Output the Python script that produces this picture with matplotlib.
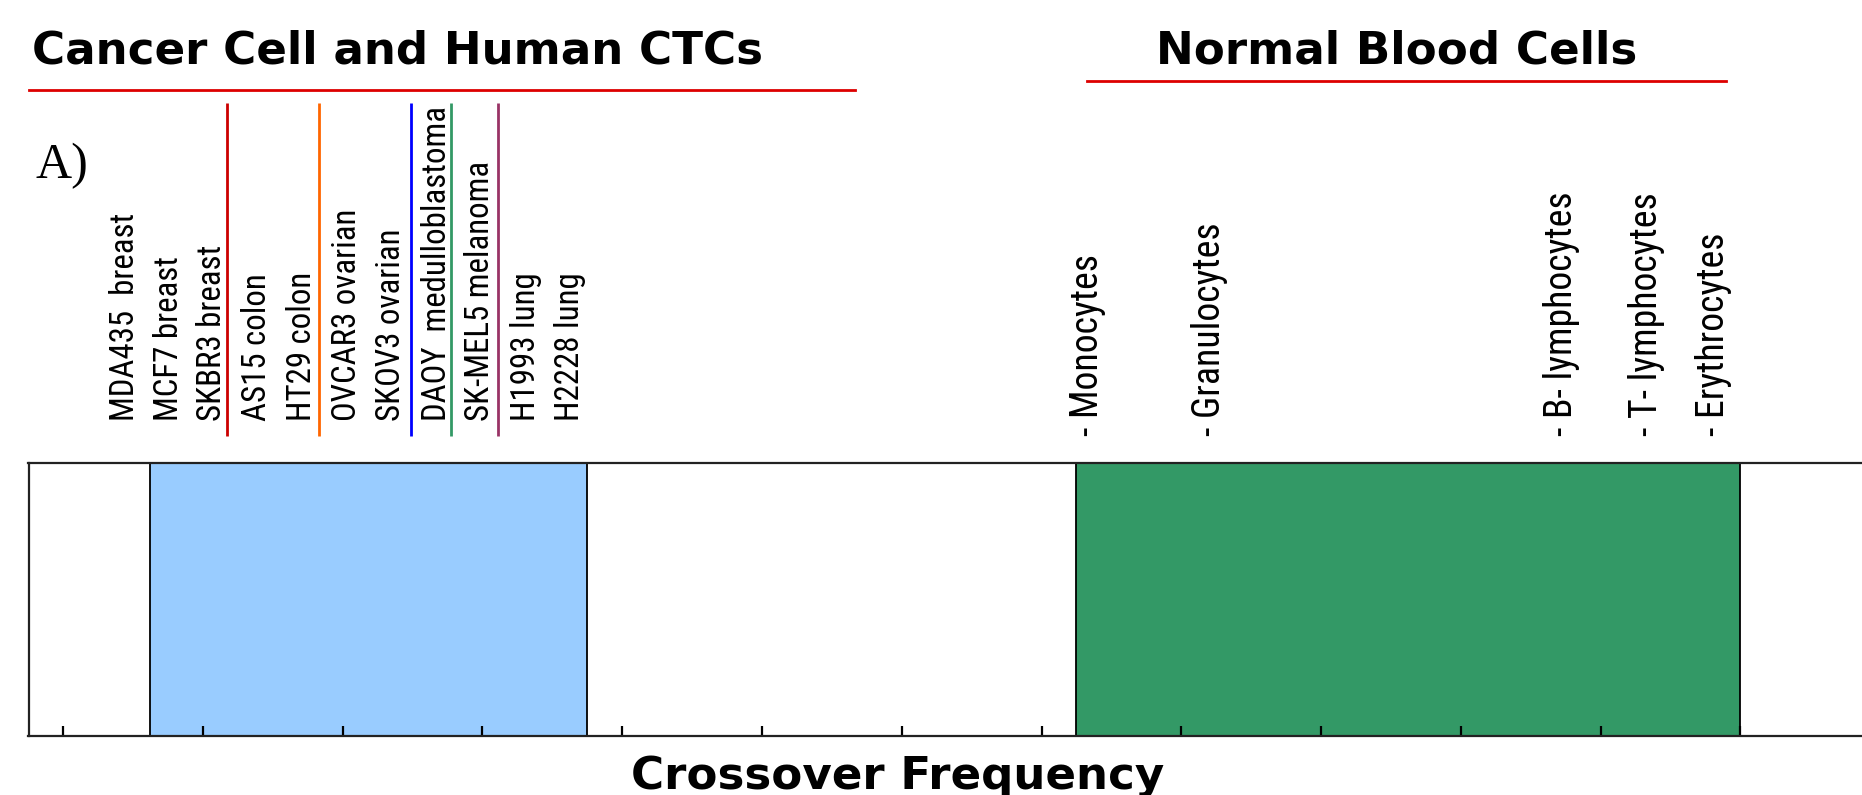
import matplotlib
matplotlib.use("Agg")
import matplotlib.pyplot as plt
from matplotlib.patches import Rectangle
from matplotlib import font_manager

# ---------------- data ----------------
tick_positions = list(range(13))
cancer_range = (0.625, 3.75)
blood_range = (7.25, 12.0)

cancer_labels = ["MDA435  breast", "MCF7 breast", "SKBR3 breast", "AS15 colon", "HT29 colon",
                 "OVCAR3 ovarian", "SKOV3 ovarian", "DAOY  medulloblastoma", "SK-MEL5 melanoma",
                 "H1993 lung", "H2228 lung"]
cancer_pos = [0.44, 0.758, 1.066, 1.388, 1.707, 2.031, 2.346, 2.675, 2.983, 3.312, 3.627]

blood_labels = ["- Monocytes", "- Granulocytes", "- B- lymphocytes", "- T- lymphocytes", "- Erythrocytes"]
blood_pos = [7.33, 8.205, 10.72, 11.33, 11.81]

divider_pos = [1.17, 1.828, 2.489, 2.775, 3.115]
divider_colors = ["#cc0000", "#ff6600", "#0000ff", "#339966", "#993366"]

# ---------------- fonts ----------------
avail = {f.name for f in font_manager.fontManager.ttflist}
narrow = "Liberation Sans"
for cand in ["Liberation Sans Narrow", "Roboto Condensed", "PT Sans Narrow", "Archivo Narrow"]:
    if cand in avail:
        narrow = cand
        break

W, H = 1862, 795
fig = plt.figure(figsize=(W / 100, H / 100), dpi=100)
ax_left = 28.5 / W
ax_bottom = (H - 736) / H
ax_h = (736 - 463) / H
ax = fig.add_axes([ax_left, ax_bottom, 1.0 - ax_left, ax_h])

ax.set_xlim(-0.2475, 12.87)
ax.set_ylim(0, 1)

ax.add_patch(Rectangle((cancer_range[0], 0), cancer_range[1] - cancer_range[0], 1,
                       facecolor="#99ccff", edgecolor="black", linewidth=1.3, zorder=1))
ax.add_patch(Rectangle((blood_range[0], 0), blood_range[1] - blood_range[0], 1,
                       facecolor="#339966", edgecolor="black", linewidth=1.3, zorder=1))

ax.set_xticks(tick_positions)
ax.set_xticklabels([])
ax.set_yticks([])
ax.tick_params(axis="x", direction="in", length=7.5, width=1.6, color="black", bottom=True, top=False)
for s in ["left", "top", "bottom"]:
    ax.spines[s].set_linewidth(1.6)
    ax.spines[s].set_color("#222222")
ax.spines["right"].set_visible(False)

tr = ax.get_xaxis_transform()
left_texts = [ax.text(p, 1.154, lab, transform=tr, rotation=90, ha="center", va="bottom",
                      fontsize=25, family=narrow, color="black", clip_on=False)
              for lab, p in zip(cancer_labels, cancer_pos)]
right_texts = [ax.text(p, 1.099, lab, transform=tr, rotation=90, ha="center", va="bottom",
                       fontsize=28, family=narrow, color="black", clip_on=False)
               for lab, p in zip(blood_labels, blood_pos)]
for p, c in zip(divider_pos, divider_colors):
    ax.plot([p, p], [1.099, 2.319], transform=tr, color=c, linewidth=2.0, clip_on=False,
            solid_capstyle="butt")

# fit label sizes to the reference text lengths (pixels)
renderer = fig.canvas.get_renderer()
def fit(texts, idx, target):
    ext = texts[idx].get_window_extent(renderer).height
    size = texts[idx].get_fontsize() * target / ext
    for t in texts:
        t.set_fontsize(size)
fit(left_texts, 7, 316)
fit(right_texts, 1, 213)

ax.set_xlabel("Crossover Frequency", fontsize=32.5, fontweight="bold", family="DejaVu Sans",
              labelpad=8)
ax.xaxis.set_label_coords((898 - 28.5) / (W - 28.5), -0.07)
ax.xaxis.label.set_va("top")

# headers
fig.text(32 / W, 1 - 63 / H, "Cancer Cell and Human CTCs", fontsize=32.5, fontweight="bold",
         family="DejaVu Sans", ha="left", va="baseline")
fig.text(1397 / W, 1 - 63 / H, "Normal Blood Cells", fontsize=32.5, fontweight="bold",
         family="DejaVu Sans", ha="center", va="baseline")
fig.add_artist(plt.Line2D([28.5 / W, 855 / W], [1 - 90 / H, 1 - 90 / H], color="#dd0000", linewidth=2.0))
fig.add_artist(plt.Line2D([1086.5 / W, 1725.5 / W], [1 - 81 / H, 1 - 81 / H], color="#dd0000", linewidth=2.0))
fig.text(35 / W, 1 - 178 / H, "A)", fontsize=36, family="Liberation Serif", ha="left", va="baseline")

fig.savefig("out.png", dpi=100)
